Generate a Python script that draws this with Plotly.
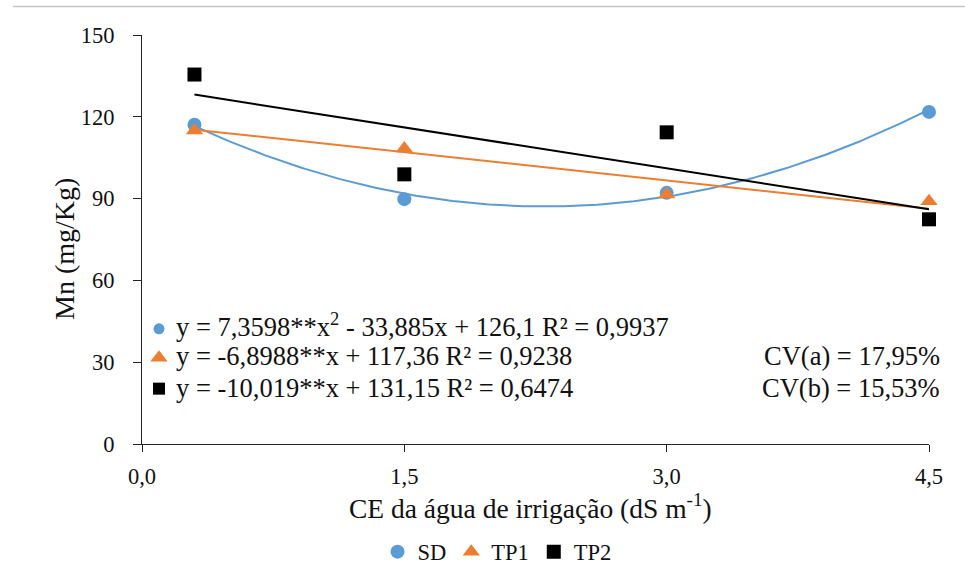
import numpy as np
import plotly.graph_objects as go

# ---- data ----
ce = [0.3, 1.5, 3.0, 4.5]
sd = [117.1, 89.8, 92.1, 121.8]
tp1 = [115.0, 108.4, 91.5, 89.0]
tp2 = [135.5, 98.9, 114.3, 82.4]

# trend-line coefficients (highest power first), as printed on chart
coef_sd = [7.3598, -33.885, 126.1]
coef_tp1 = [-6.8988, 117.36]
coef_tp2 = [-10.019, 131.15]

x_ticks = [0.0, 1.5, 3.0, 4.5]
x_ticklabels = ["0,0", "1,5", "3,0", "4,5"]
y_ticks = [0, 30, 60, 90, 120, 150]

eq_lines = [
    "y = 7,3598**x<sup>2</sup> - 33,885x + 126,1 R² = 0,9937",
    "y = -6,8988**x + 117,36 R² = 0,9238",
    "y = -10,019**x + 131,15 R² = 0,6474",
]
cv_lines = ["CV(a) = 17,95%", "CV(b) = 15,53%"]

BLUE = "#5B9BD5"
ORANGE = "#ED7D31"
BLACK = "#000000"
FONT = "Liberation Serif"
TXT = "#111111"

W, H = 965, 579
L, R, T, B = 142, 929, 34.5, 444.5


def px(xp):
    return (xp - L) / (R - L)


def py(yp):
    return (B - yp) / (B - T)


fig = go.Figure()

xs = np.linspace(min(ce), max(ce), 200)
for coef, col in [(coef_sd, BLUE), (coef_tp1, ORANGE), (coef_tp2, BLACK)]:
    fig.add_trace(go.Scatter(x=xs, y=np.polyval(coef, xs), mode="lines",
                             line=dict(color=col, width=2), showlegend=False,
                             hoverinfo="skip", cliponaxis=False))

fig.add_trace(go.Scatter(x=ce, y=sd, mode="markers", name="SD",
                         marker=dict(symbol="circle", size=14, color=BLUE),
                         cliponaxis=False))
fig.add_trace(go.Scatter(x=ce, y=tp1, mode="markers", name="TP1",
                         marker=dict(symbol="triangle-up", size=15, color=ORANGE),
                         cliponaxis=False))
fig.add_trace(go.Scatter(x=ce, y=tp2, mode="markers", name="TP2",
                         marker=dict(symbol="square", size=14, color=BLACK),
                         cliponaxis=False))

# equation key markers on a pixel overlay axis
key_y = [329, 358, 389]
key_sym = ["circle", "triangle-up", "square"]
key_size = [11, 15, 12]
key_col = [BLUE, ORANGE, BLACK]
for yy, s, sz, c in zip(key_y, key_sym, key_size, key_col):
    fig.add_trace(go.Scatter(x=[159], y=[yy], mode="markers", xaxis="x2", yaxis="y2",
                             marker=dict(symbol=s, size=sz, color=c),
                             showlegend=False, hoverinfo="skip", cliponaxis=False))

EQ_SIZE = 26.5
annotations = []
for i, txt in enumerate(eq_lines):
    annotations.append(dict(x=px(174), y=py(325 + i * 31.5), xref="paper", yref="paper",
                            text=txt, showarrow=False, xanchor="left", yanchor="middle",
                            font=dict(family=FONT, size=EQ_SIZE, color=TXT)))
for i, txt in enumerate(cv_lines):
    annotations.append(dict(x=px(942), y=py(356.5 + i * 31.5), xref="paper", yref="paper",
                            text=txt, showarrow=False, xanchor="right", yanchor="middle",
                            font=dict(family=FONT, size=EQ_SIZE, color=TXT)))
annotations.append(dict(x=px(530), y=py(507), xref="paper", yref="paper",
                        text="CE da água de irrigação (dS m<sup>-1</sup>)",
                        showarrow=False, xanchor="center", yanchor="middle",
                        font=dict(family=FONT, size=27.5, color=TXT)))
annotations.append(dict(x=px(65), y=py(249), xref="paper", yref="paper", text="Mn (mg/Kg)",
                        textangle=-90, showarrow=False, xanchor="center", yanchor="middle",
                        font=dict(family=FONT, size=28, color=TXT)))

fig.update_layout(
    width=W, height=H,
    margin=dict(l=L, r=W - R, t=T, b=H - B, autoexpand=False),
    paper_bgcolor="white", plot_bgcolor="white",
    font=dict(family=FONT, size=22, color=TXT),
    xaxis=dict(range=[0, 4.5], tickvals=x_ticks, ticktext=x_ticklabels,
               showgrid=False, zeroline=False, showline=True, linecolor="#222",
               linewidth=1, ticks="outside", ticklen=7, tickcolor="#222",
               ticklabelstandoff=5, tickfont=dict(family=FONT, size=22.5, color=TXT)),
    yaxis=dict(range=[0, 150], tickvals=y_ticks, showgrid=False, zeroline=False,
               showline=True, linecolor="#222", linewidth=1, ticks="outside",
               ticklen=8, tickcolor="#222", ticklabelstandoff=14,
               tickfont=dict(family=FONT, size=22.5, color=TXT)),
    xaxis2=dict(range=[L, R], overlaying="x", visible=False),
    yaxis2=dict(range=[B, T], overlaying="y", visible=False),
    legend=dict(orientation="h", xref="container", yref="container",
                x=497 / W, y=1 - 552 / H, xanchor="center", yanchor="middle",
                font=dict(family=FONT, size=22.5, color=TXT), itemwidth=30,
                traceorder="normal"),
    annotations=annotations,
    shapes=[dict(type="line", xref="paper", yref="paper", x0=px(13), x1=px(965),
                 y0=py(6), y1=py(6), line=dict(color="#c6c6c6", width=1.5))],
)
fig.write_html("out.html")
